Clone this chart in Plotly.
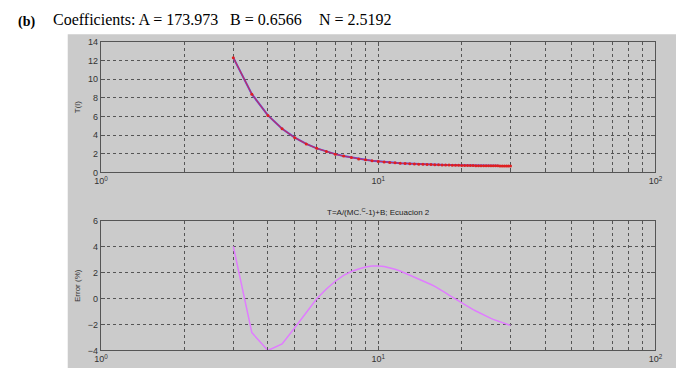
import plotly.graph_objects as go

# Moisture content values (x)
mc = [3, 3.5, 4, 4.5, 5, 5.5, 6, 6.5, 7, 7.5, 8, 8.5, 9, 9.5, 10,
      10.5, 11, 11.5, 12, 12.5, 13, 13.5, 14, 14.5, 15, 15.5, 16, 16.5,
      17, 17.5, 18, 18.5, 19, 19.5, 20, 20.5, 21, 21.5, 22, 22.5, 23,
      23.5, 24, 24.5, 25, 25.5, 26, 26.5, 27, 27.5, 28, 28.5, 29, 29.5, 30]

# T values
t_vals = [12.32, 8.40, 6.12, 4.68, 3.73, 3.06, 2.58, 2.23, 1.96, 1.75, 1.59,
          1.45, 1.35, 1.26, 1.18, 1.12, 1.07, 1.03, 0.99, 0.96, 0.93, 0.905,
          0.88, 0.865, 0.85, 0.835, 0.82, 0.81, 0.80, 0.79, 0.78, 0.77, 0.765,
          0.755, 0.75, 0.745, 0.74, 0.735, 0.73, 0.725, 0.72, 0.72, 0.715,
          0.71, 0.71, 0.705, 0.70, 0.70, 0.70, 0.695, 0.695, 0.69, 0.69, 0.69, 0.69]

# Error (%) values
err_vals = [4.05, -2.62, -4.0, -3.5, -2.25, -1.1, 0.0, 0.75, 1.35, 1.8, 2.1,
            2.3, 2.45, 2.52, 2.53, 2.48, 2.4, 2.28, 2.14, 1.98, 1.83, 1.67,
            1.52, 1.37, 1.25, 1.1, 0.95, 0.8, 0.62, 0.45, 0.28, 0.12, -0.04,
            -0.19, -0.33, -0.46, -0.6, -0.72, -0.84, -0.95, -1.06, -1.16, -1.26,
            -1.35, -1.44, -1.52, -1.6, -1.67, -1.74, -1.8, -1.86, -1.92, -1.97,
            -2.01, -2.05]

top_yticks = [0, 2, 4, 6, 8, 10, 12, 14]
bot_yticks = [-4, -2, 0, 2, 4, 6]
x_major = [1, 10, 100]
x_major_text = ["10<sup>0</sup>", "10<sup>1</sup>", "10<sup>2</sup>"]
x_minor = [2, 3, 4, 5, 6, 7, 8, 9, 20, 30, 40, 50, 60, 70, 80, 90]

title_parts = ["Coefficients: A = 173.973", "B = 0.6566", "N = 2.5192"]
title_x = [46, 227, 318]

W, H = 683, 373
def px(x):
    return x / W
def py(y):
    return (H - y) / H

fig = go.Figure()
fig.add_trace(go.Scatter(x=mc, y=t_vals, mode="lines", line=dict(color="#4a4aff", width=2),
                         xaxis="x", yaxis="y", showlegend=False))
fig.add_trace(go.Scatter(x=mc, y=t_vals, mode="lines+markers",
                         line=dict(color="rgba(235,40,40,0.75)", width=1.2),
                         marker=dict(color="#e02020", size=3),
                         xaxis="x", yaxis="y", showlegend=False))
fig.add_trace(go.Scatter(x=mc, y=err_vals, mode="lines", line=dict(color="#e07cff", width=1.5),
                         xaxis="x2", yaxis="y2", showlegend=False))

axis_font = dict(family="Arial, Liberation Sans, sans-serif", size=8, color="#333333")
tick_font = dict(family="Arial, Liberation Sans, sans-serif", size=9, color="#333333")
grid = dict(showgrid=True, gridcolor="#555555", griddash="dot", gridwidth=1)
common_x = dict(type="log", range=[0, 2], tickvals=x_major, ticktext=x_major_text,
                minor=dict(tickvals=x_minor, ticks="inside", ticklen=3, tickcolor="#555555", **grid),
                showline=True, linecolor="#555555", linewidth=1.2, mirror="ticks",
                ticks="inside", ticklen=4, tickcolor="#555555", tickfont=tick_font,
                zeroline=False, **grid)
common_y = dict(showline=True, linecolor="#555555", linewidth=1.2, mirror="ticks",
                ticks="inside", ticklen=4, tickcolor="#555555", tickfont=tick_font,
                zeroline=False, **grid)

annotations = [
    dict(text="<b>(b)</b>", x=px(10), y=py(17), xref="paper", yref="paper",
         xanchor="left", yanchor="middle", showarrow=False, borderpad=0,
         font=dict(family="Liberation Serif, Times New Roman, serif", size=14, color="black")),
    dict(text="T=A/(MC.<sup>C</sup>-1)+B; Ecuacion 2", x=px(379), y=py(213), xref="paper", yref="paper",
         xanchor="center", yanchor="middle", showarrow=False,
         font=dict(family="Arial, Liberation Sans, sans-serif", size=8, color="#222222")),
]
for txt, xx in zip(title_parts, title_x):
    annotations.append(dict(text=txt, x=px(xx), y=py(15), xref="paper", yref="paper",
                            xanchor="left", yanchor="middle", showarrow=False, borderpad=0,
                            font=dict(family="Liberation Serif, Times New Roman, serif",
                                      size=16, color="black")))

fig.update_layout(
    width=W, height=H,
    margin=dict(l=0, r=0, t=0, b=0),
    paper_bgcolor="white",
    plot_bgcolor="white",
    xaxis=dict(domain=[px(96), px(662)], anchor="y", **common_x),
    yaxis=dict(domain=[py(172), py(38)], anchor="x", range=[0, 14], tickvals=top_yticks,
               title=dict(text="T(l)", font=axis_font, standoff=6), **common_y),
    xaxis2=dict(domain=[px(96), px(662)], anchor="y2", **common_x),
    yaxis2=dict(domain=[py(355), py(222)], anchor="x2", range=[-4, 6], tickvals=bot_yticks,
                title=dict(text="Error (%)", font=axis_font, standoff=6), **common_y),
    shapes=[dict(type="rect", xref="paper", yref="paper", x0=px(62), x1=1, y0=0, y1=py(30),
                 fillcolor="#cbcbcb", line=dict(width=0), layer="below")],
    annotations=annotations,
)

fig.write_html("out.html")
